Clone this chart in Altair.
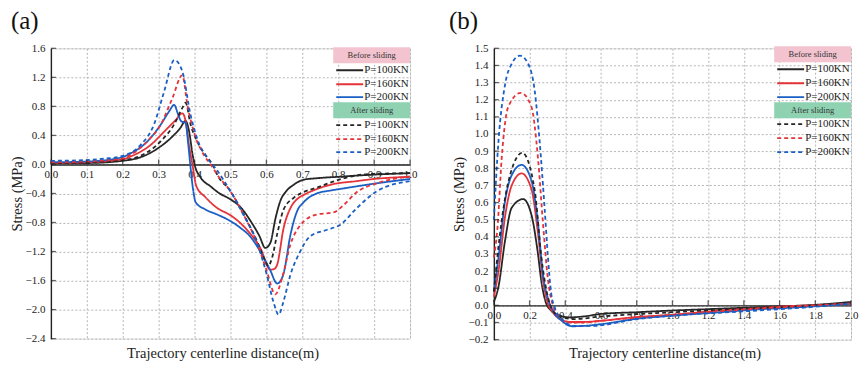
import altair as alt
import pandas as pd

FONT = "Liberation Serif"

# ---------------- data: panel (a) ----------------
a_b100_x = [0.0, 0.1, 0.2, 0.25, 0.3, 0.333, 0.36, 0.375, 0.385, 0.395, 0.40, 0.417, 0.444, 0.47, 0.5, 0.53, 0.556, 0.58, 0.597, 0.611, 0.625, 0.639, 0.655, 0.676, 0.704, 0.74, 0.8, 0.9, 1.0]
a_b100_y = [0.02, 0.02, 0.05, 0.1, 0.23, 0.36, 0.5, 0.6, 0.45, 0.12, 0.0, -0.18, -0.3, -0.4, -0.48, -0.6, -0.78, -0.98, -1.15, -1.08, -0.75, -0.5, -0.37, -0.28, -0.21, -0.19, -0.17, -0.14, -0.12]

a_b160_x = [0.0, 0.1, 0.2, 0.222, 0.278, 0.315, 0.347, 0.366, 0.375, 0.385, 0.394, 0.405, 0.43, 0.463, 0.5, 0.528, 0.556, 0.583, 0.611, 0.622, 0.63, 0.648, 0.667, 0.685, 0.704, 0.74, 0.778, 0.85, 0.9, 1.0]
a_b160_y = [0.02, 0.03, 0.07, 0.11, 0.27, 0.45, 0.61, 0.705, 0.6, 0.25, 0.0, -0.3, -0.45, -0.6, -0.7, -0.81, -0.96, -1.15, -1.45, -1.44, -1.38, -0.875, -0.6, -0.48, -0.42, -0.34, -0.28, -0.23, -0.2, -0.17]

a_b200_x = [0.0, 0.1, 0.2, 0.213, 0.269, 0.306, 0.329, 0.343, 0.355, 0.362, 0.375, 0.382, 0.388, 0.396, 0.403, 0.43, 0.463, 0.5, 0.528, 0.556, 0.583, 0.61, 0.63, 0.64, 0.648, 0.667, 0.685, 0.704, 0.74, 0.778, 0.815, 0.907, 1.0]
a_b200_y = [0.03, 0.04, 0.1, 0.13, 0.32, 0.55, 0.73, 0.82, 0.68, 0.6, 0.57, 0.3, 0.0, -0.35, -0.52, -0.62, -0.69, -0.78, -0.875, -1.0, -1.2, -1.45, -1.64, -1.6, -1.5, -0.97, -0.65, -0.52, -0.4, -0.36, -0.33, -0.26, -0.2]

a_a100_x = [0.0, 0.1, 0.2, 0.24, 0.306, 0.343, 0.366, 0.375, 0.389, 0.407, 0.435, 0.45, 0.463, 0.5, 0.537, 0.574, 0.597, 0.605, 0.615, 0.63, 0.648, 0.676, 0.704, 0.74, 0.796, 0.852, 0.9, 1.0]
a_a100_y = [0.02, 0.03, 0.06, 0.1, 0.32, 0.55, 0.78, 0.85, 0.55, 0.32, 0.1, 0.0, -0.14, -0.37, -0.69, -1.06, -1.33, -1.4, -1.3, -0.96, -0.62, -0.46, -0.38, -0.32, -0.22, -0.15, -0.13, -0.12]

a_a160_x = [0.0, 0.1, 0.2, 0.213, 0.269, 0.306, 0.338, 0.366, 0.38, 0.398, 0.426, 0.449, 0.463, 0.5, 0.537, 0.574, 0.6, 0.625, 0.644, 0.667, 0.694, 0.74, 0.787, 0.815, 0.852, 0.907, 1.0]
a_a160_y = [0.03, 0.04, 0.08, 0.11, 0.32, 0.55, 0.91, 1.23, 0.82, 0.45, 0.13, -0.03, -0.14, -0.37, -0.7, -1.08, -1.45, -1.79, -1.56, -1.1, -0.84, -0.69, -0.66, -0.56, -0.38, -0.26, -0.165]

a_a200_x = [0.0, 0.1, 0.15, 0.194, 0.25, 0.287, 0.315, 0.344, 0.366, 0.389, 0.407, 0.435, 0.458, 0.5, 0.537, 0.574, 0.6, 0.62, 0.634, 0.648, 0.667, 0.694, 0.722, 0.769, 0.806, 0.852, 0.907, 1.0]
a_a200_y = [0.05, 0.06, 0.08, 0.11, 0.27, 0.55, 1.0, 1.44, 1.28, 0.68, 0.36, 0.09, -0.05, -0.37, -0.7, -1.08, -1.5, -1.9, -2.07, -1.88, -1.52, -1.2, -0.99, -0.9, -0.83, -0.6, -0.37, -0.23]

# ---------------- data: panel (b) ----------------
b_b100_x = [0.0, 0.026, 0.063, 0.1, 0.164, 0.21, 0.247, 0.266, 0.29, 0.32, 0.36, 0.42, 0.5, 0.6, 0.8, 1.0, 1.2, 1.4, 1.6, 1.8, 2.0]
b_b100_y = [0.02, 0.11, 0.38, 0.57, 0.62, 0.53, 0.3, 0.14, 0.02, -0.03, -0.055, -0.07, -0.065, -0.05, -0.04, -0.03, -0.022, -0.014, -0.006, 0.003, 0.02]

b_b160_x = [0.0, 0.026, 0.063, 0.1, 0.155, 0.21, 0.247, 0.275, 0.3, 0.33, 0.37, 0.43, 0.5, 0.6, 0.8, 1.0, 1.27, 1.5, 1.64, 1.8, 2.0]
b_b160_y = [0.05, 0.2, 0.52, 0.7, 0.77, 0.68, 0.42, 0.15, 0.02, -0.04, -0.08, -0.097, -0.097, -0.09, -0.068, -0.055, -0.03, -0.015, -0.005, 0.0, 0.01]

b_b200_x = [0.0, 0.026, 0.063, 0.1, 0.155, 0.21, 0.247, 0.275, 0.303, 0.33, 0.38, 0.44, 0.5, 0.6, 0.81, 1.0, 1.27, 1.5, 1.64, 1.8, 2.0]
b_b200_y = [0.08, 0.28, 0.61, 0.76, 0.82, 0.73, 0.48, 0.18, 0.04, -0.03, -0.09, -0.122, -0.12, -0.11, -0.077, -0.06, -0.04, -0.022, -0.015, -0.005, 0.01]

b_a100_x = [0.0, 0.03, 0.081, 0.159, 0.229, 0.266, 0.3, 0.33, 0.38, 0.45, 0.6, 1.0, 1.4, 1.8, 2.0]
b_a100_y = [0.08, 0.38, 0.72, 0.89, 0.67, 0.28, 0.06, -0.03, -0.07, -0.08, -0.065, -0.04, -0.02, 0.0, 0.015]

b_a160_x = [0.0, 0.02, 0.044, 0.081, 0.151, 0.21, 0.247, 0.275, 0.303, 0.33, 0.36, 0.42, 0.5, 0.6, 1.0, 1.4, 1.8, 2.0]
b_a160_y = [0.28, 0.45, 0.86, 1.16, 1.24, 1.16, 0.86, 0.48, 0.15, 0.0, -0.06, -0.1, -0.1, -0.09, -0.055, -0.025, 0.0, 0.01]

b_a200_x = [0.0, 0.026, 0.063, 0.1, 0.146, 0.192, 0.229, 0.256, 0.284, 0.303, 0.321, 0.34, 0.38, 0.45, 0.55, 0.8, 1.0, 1.4, 1.8, 2.0]
b_a200_y = [0.5, 0.96, 1.29, 1.41, 1.457, 1.41, 1.25, 0.96, 0.57, 0.28, 0.07, -0.01, -0.08, -0.12, -0.12, -0.08, -0.06, -0.035, -0.008, 0.01]

# ---------------- labels / ticks ----------------
series_names = ["P=100KN", "P=160KN", "P=200KN"]
series_colors = ["#262626", "#e5333a", "#1a5fc4"]
group_names = ["Before sliding", "After sliding"]
group_fills = ["#f3c3cf", "#8ed2b2"]

a_xticks = [0.0, 0.1, 0.2, 0.3, 0.4, 0.5, 0.6, 0.7, 0.8, 0.9, 1.0]
a_yticks = [-2.4, -2.0, -1.6, -1.2, -0.8, -0.4, 0.0, 0.4, 0.8, 1.2, 1.6]
b_xticks = [0.0, 0.2, 0.4, 0.6, 0.8, 1.0, 1.2, 1.4, 1.6, 1.8, 2.0]
b_yticks = [-0.2, -0.1, 0.0, 0.1, 0.2, 0.3, 0.4, 0.5, 0.6, 0.7, 0.8, 0.9, 1.0, 1.1, 1.2, 1.3, 1.4, 1.5]

x_title = "Trajectory centerline distance(m)"
y_title = "Stress (MPa)"


def long_frame(sets):
    rows = []
    for grp, name, xs, ys in sets:
        for i, (xv, yv) in enumerate(zip(xs, ys)):
            rows.append({"x": xv, "y": yv, "series": name, "group": grp, "key": grp + name, "order": i})
    return pd.DataFrame(rows)


df_a = long_frame([
    ("Before sliding", "P=100KN", a_b100_x, a_b100_y),
    ("Before sliding", "P=160KN", a_b160_x, a_b160_y),
    ("Before sliding", "P=200KN", a_b200_x, a_b200_y),
    ("After sliding", "P=100KN", a_a100_x, a_a100_y),
    ("After sliding", "P=160KN", a_a160_x, a_a160_y),
    ("After sliding", "P=200KN", a_a200_x, a_a200_y),
])
df_b = long_frame([
    ("Before sliding", "P=100KN", b_b100_x, b_b100_y),
    ("Before sliding", "P=160KN", b_b160_x, b_b160_y),
    ("Before sliding", "P=200KN", b_b200_x, b_b200_y),
    ("After sliding", "P=100KN", b_a100_x, b_a100_y),
    ("After sliding", "P=160KN", b_a160_x, b_a160_y),
    ("After sliding", "P=200KN", b_a200_x, b_a200_y),
])

GRID = dict(grid=True, gridColor="#b5b5b5", gridDash=[2, 2], gridWidth=1)
LBL = dict(labelFont=FONT, labelFontSize=11, labelColor="#222", titleFont=FONT,
           titleFontSize=14.5, titleFontWeight="normal", titleColor="#222",
           domainColor="#222", domainWidth=1.4, tickSize=0, labelOverlap=False)


def one_one(d):
    return alt.Data(values=[d])


def legend_layers(x0, top_rows):
    layers = []
    box_w = 77
    lx1, lx2 = x0 + 3, x0 + 30
    (pink_y, rows_before, green_y, rows_after) = top_rows
    for gi, (gy, rows) in enumerate([(pink_y, rows_before), (green_y, rows_after)]):
        layers.append(alt.Chart(one_one({"g": group_names[gi]})).mark_rect(
            fill=group_fills[gi]).encode(
            x=alt.value(x0), x2=alt.value(x0 + box_w),
            y=alt.value(gy), y2=alt.value(gy + 16)))
        layers.append(alt.Chart(one_one({"g": group_names[gi]})).mark_text(
            font=FONT, fontSize=8.5, color="#333", align="center", baseline="middle").encode(
            text="g:N", x=alt.value(x0 + box_w / 2), y=alt.value(gy + 8)))
        for si, ry in enumerate(rows):
            dash = [1, 0] if gi == 0 else [4, 3]
            layers.append(alt.Chart(one_one({"s": series_names[si]})).mark_rule(
                color=series_colors[si], strokeWidth=1.8, strokeDash=dash).encode(
                x=alt.value(lx1), x2=alt.value(lx2), y=alt.value(ry)))
            layers.append(alt.Chart(one_one({"s": series_names[si]})).mark_text(
                font=FONT, fontSize=11, color="#222", align="left", baseline="middle").encode(
                text="s:N", x=alt.value(lx2 + 1), y=alt.value(ry)))
    return layers


def panel(df, xdom, ydom, xticks, yticks, W, H, label, legend_rows, lab_x):
    y0 = H * ydom[1] / (ydom[1] - ydom[0])
    xs = alt.Scale(domain=xdom, nice=False, zero=False)
    ys = alt.Scale(domain=ydom, nice=False, zero=False)
    x_axis = alt.Axis(values=xticks, format=".1f", offset=-(H - y0), labelFlush=False,
                      labelPadding=4, title=x_title, titleY=306 - y0, titleX=W / 2 - 8,
                      titleBaseline="middle", **GRID, **LBL)
    y_axis = alt.Axis(values=yticks, format=".1f", labelPadding=6, title=y_title,
                      titlePadding=1, **GRID, **LBL)
    base = alt.Chart(df)
    lines = base.mark_line(strokeWidth=1.8, interpolate="monotone").encode(
        x=alt.X("x:Q", scale=xs, axis=x_axis),
        y=alt.Y("y:Q", scale=ys, axis=y_axis),
        color=alt.Color("series:N", scale=alt.Scale(domain=series_names, range=series_colors), legend=None),
        strokeDash=alt.StrokeDash("group:N", scale=alt.Scale(domain=group_names, range=[[1, 0], [4, 3]]), legend=None),
        detail="key:N",
        order="order:Q",
    )
    xt = alt.Chart(pd.DataFrame({"x": xticks, "y": [0.0] * len(xticks)})).mark_tick(
        orient="vertical", size=5, thickness=1.3, color="#222", yOffset=-2.5).encode(
        x=alt.X("x:Q", scale=xs, axis=x_axis), y=alt.Y("y:Q", scale=ys, axis=y_axis))
    yt = alt.Chart(pd.DataFrame({"y": yticks, "x": [xdom[0]] * len(yticks)})).mark_tick(
        orient="horizontal", size=5, thickness=1.3, color="#222", xOffset=2.5).encode(
        y=alt.Y("y:Q", scale=ys, axis=y_axis), x=alt.X("x:Q", scale=xs, axis=x_axis))
    lab = alt.Chart(one_one({"l": label})).mark_text(
        font=FONT, fontSize=25, color="#111", align="left", baseline="top").encode(
        text="l:N", x=alt.value(lab_x), y=alt.value(-39))
    return alt.layer(lines, xt, yt, lab, *legend_layers(W - 77, legend_rows)).properties(width=W, height=H)


pa = panel(df_a, [0, 1.0], [-2.4, 1.6], a_xticks, a_yticks, 360, 291, "(a)",
           (-1, [22, 36, 49], 54, [77, 91, 104]), -40)
pb = panel(df_b, [0, 2.0], [-0.2, 1.5], b_xticks, b_yticks, 358, 292, "(b)",
           (-2, [21, 35, 49], 54, [76, 90, 104]), -45)

chart = alt.hconcat(pa, pb, spacing=30).properties(
    padding={"left": 0, "top": 0, "right": 0, "bottom": 0}
).configure_view(stroke=None).configure(background="white")

chart.save("out.html", embed_options={"renderer": "svg", "actions": False})
